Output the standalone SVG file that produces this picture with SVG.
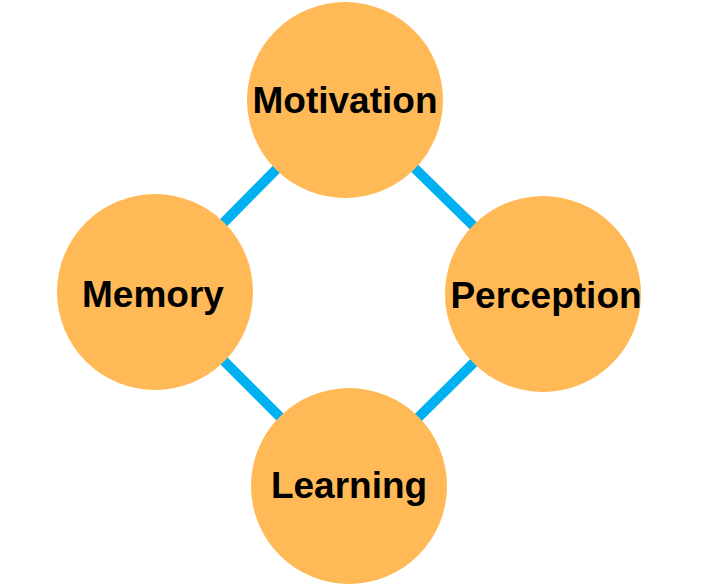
<svg xmlns="http://www.w3.org/2000/svg" width="701" height="587" viewBox="0 0 701 587">
<style>
.edge{stroke:#00B0F0;stroke-width:10;fill:none}
.node{fill:#FFB957}
.label{font-family:"Liberation Sans",Arial,sans-serif;font-weight:bold;font-size:37px;fill:#000;text-anchor:middle}
</style>
<rect width="701" height="587" fill="#fff"/>
<g id="connectors">
<line class="edge" x1="345" y1="100" x2="155" y2="292"/>
<line class="edge" x1="345" y1="100" x2="543" y2="294"/>
<line class="edge" x1="155" y1="292" x2="349" y2="486"/>
<line class="edge" x1="543" y1="294" x2="349" y2="486"/>
</g>
<g id="motivation"><circle class="node" cx="345" cy="100" r="98"/><text class="label" x="345" y="112.5">Motivation</text></g>
<g id="memory"><circle class="node" cx="155" cy="292" r="98"/><text class="label" x="153" y="307">Memory</text></g>
<g id="perception"><circle class="node" cx="543" cy="294" r="98"/><text class="label" x="546" y="307.5">Perception</text></g>
<g id="learning"><circle class="node" cx="349" cy="486" r="98"/><text class="label" x="349" y="498">Learning</text></g>
</svg>
